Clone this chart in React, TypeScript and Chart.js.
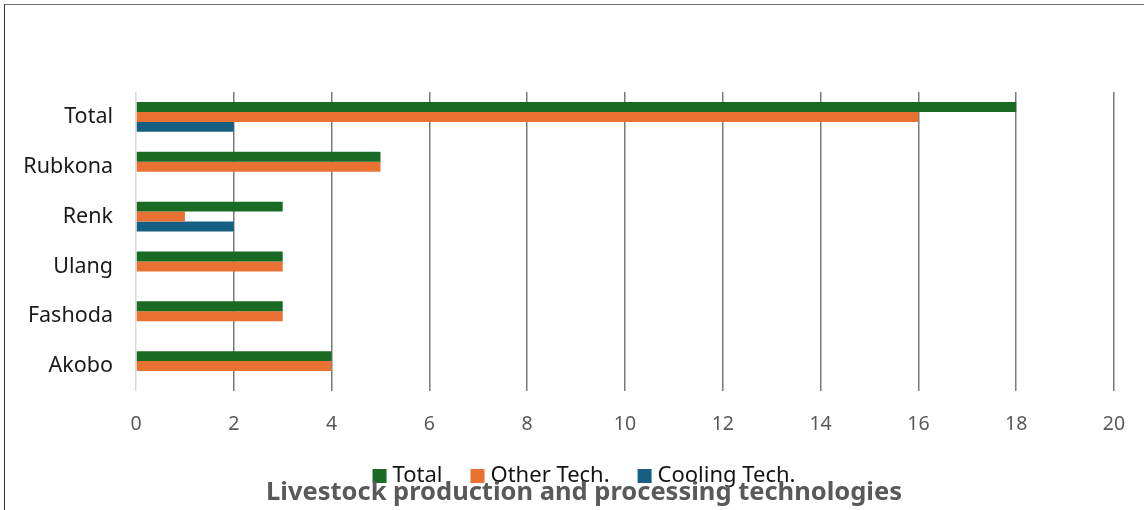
import React, { useEffect, useRef } from "react";
import { Chart, registerables } from "chart.js";

Chart.register(...registerables);

const categories = ["Total", "Rubkona", "Renk", "Ulang", "Fashoda", "Akobo"];
const totalValues = [18, 5, 3, 3, 3, 4];
const otherTechValues = [16, 5, 1, 3, 3, 4];
const coolingTechValues = [2, 0, 2, 0, 0, 0];
const xTicks = [0, 2, 4, 6, 8, 10, 12, 14, 16, 18, 20];
const seriesNames = ["Total", "Other Tech.", "Cooling Tech."];
const seriesColors = ["#196B24", "#E97132", "#156082"];
const chartTitle = "Livestock production and processing technologies";

const FONT = "'Noto Sans', 'Open Sans', sans-serif";

const legendTitlePlugin = {
  id: "legendTitle",
  afterDraw(chart: any) {
    const ctx = chart.ctx as CanvasRenderingContext2D;
    const cx = 584;
    ctx.save();
    // legend
    ctx.font = `22px ${FONT}`;
    const box = 14;
    const gapBoxText = 6;
    const gapItems = 28;
    const items = chart.data.datasets.map((d: any) => ({
      label: d.label as string,
      color: d.backgroundColor as string,
      w: ctx.measureText(d.label).width,
    }));
    let total = 0;
    items.forEach((it: any, i: number) => {
      total += box + gapBoxText + it.w + (i > 0 ? gapItems : 0);
    });
    let x = cx - total / 2;
    items.forEach((it: any) => {
      ctx.fillStyle = it.color;
      ctx.fillRect(x, 469, box, box);
      ctx.fillStyle = "#141414";
      ctx.textBaseline = "alphabetic";
      ctx.textAlign = "left";
      ctx.fillText(it.label, x + box + gapBoxText, 482);
      x += box + gapBoxText + it.w + gapItems;
    });
    // title
    ctx.font = `bold 25.5px ${FONT}`;
    ctx.fillStyle = "#595959";
    ctx.textAlign = "center";
    ctx.textBaseline = "alphabetic";
    ctx.fillText(chartTitle, cx, 500);
    ctx.restore();
  },
};

export default function App() {
  const canvasRef = useRef<HTMLCanvasElement | null>(null);

  useEffect(() => {
    if (!canvasRef.current) return;
    const chart = new Chart(canvasRef.current, {
      type: "bar",
      data: {
        labels: categories,
        datasets: [
          { label: seriesNames[0], data: totalValues, backgroundColor: seriesColors[0] },
          { label: seriesNames[1], data: otherTechValues, backgroundColor: seriesColors[1] },
          { label: seriesNames[2], data: coolingTechValues, backgroundColor: seriesColors[2] },
        ],
      },
      options: {
        indexAxis: "y",
        responsive: false,
        animation: false,
        maintainAspectRatio: false,
        datasets: {
          bar: { categoryPercentage: 0.6, barPercentage: 1.0, borderWidth: 0 },
        },
        layout: { padding: { top: 92, right: 10, bottom: 69, left: 0 } },
        plugins: {
          legend: { display: false },
          title: { display: false },
          tooltip: { enabled: false },
        },
        scales: {
          x: {
            min: 0,
            max: 20,
            afterBuildTicks: (scale: any) => {
              scale.ticks = xTicks.map((v) => ({ value: v }));
            },
            afterFit: (scale: any) => {
              scale.height = 50;
              scale.paddingRight = 30;
            },
            grid: {
              drawTicks: false,
              lineWidth: 1.5,
              color: (c: any) => (c.tick && c.tick.value === 0 ? "#d9d9d9" : "#7a7a7a"),
            },
            border: { display: false },
            ticks: {
              padding: 22,
              color: "#595959",
              font: { family: FONT, size: 19.5 },
              maxRotation: 0,
            },
          },
          y: {
            afterFit: (scale: any) => {
              scale.width = 136;
            },
            grid: { display: false, drawTicks: false },
            border: { display: false },
            ticks: {
              padding: 23,
              color: "#1a1a1a",
              font: { family: FONT, size: 21.5 },
            },
          },
        },
      },
      plugins: [legendTitlePlugin],
    } as any);
    return () => chart.destroy();
  }, []);

  return (
    <div
      style={{
        position: "absolute",
        left: 0,
        top: 0,
        width: 1144,
        height: 510,
        overflow: "hidden",
        background: "#ffffff",
      }}
    >
      <div
        style={{
          position: "absolute",
          left: 4,
          top: 4,
          width: 1160,
          height: 540,
          borderTop: "1px solid #6e6e6e",
          borderLeft: "1px solid #333333",
          boxSizing: "border-box",
        }}
      />
      <canvas
        ref={canvasRef}
        width={1144}
        height={510}
        style={{ position: "absolute", left: 0, top: 0, width: 1144, height: 510 }}
      />
    </div>
  );
}
